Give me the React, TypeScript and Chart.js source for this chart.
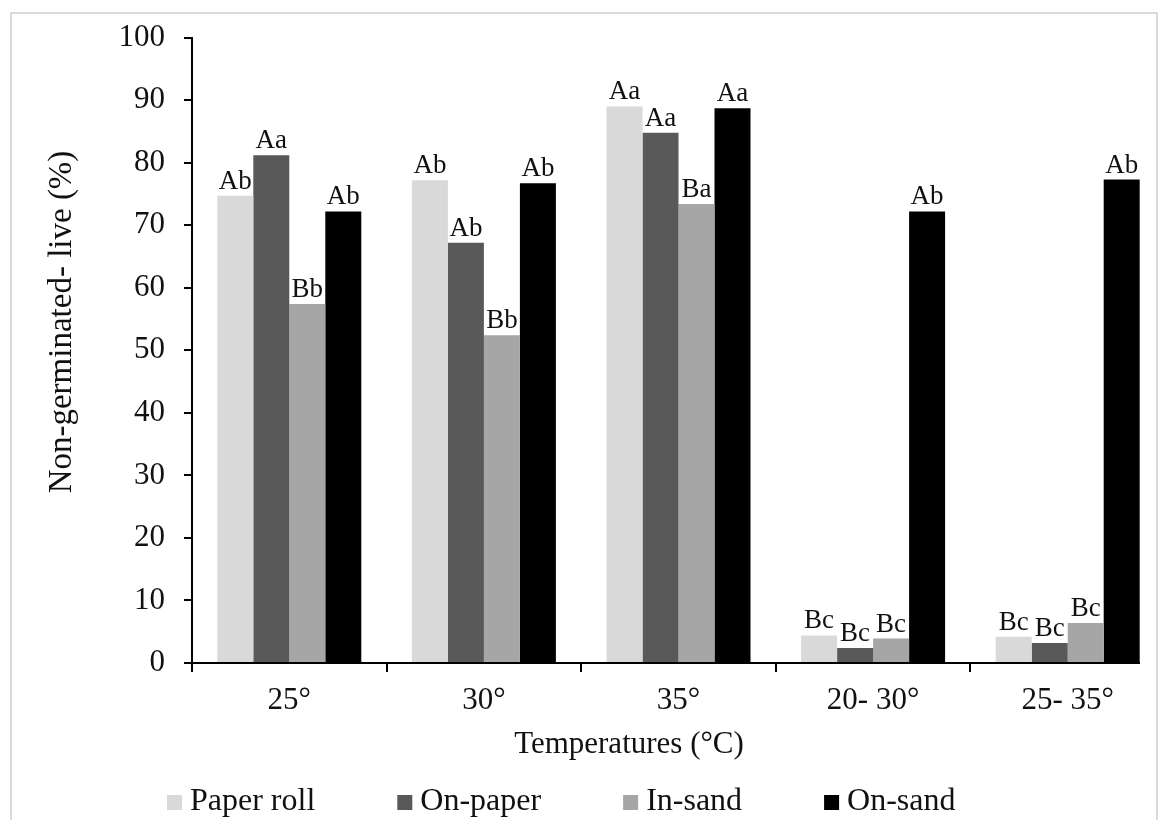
import React, { useEffect, useRef } from "react";
import { Chart, registerables } from "chart.js";

Chart.register(...registerables);

const categories = ["25°", "30°", "35°", "20- 30°", "25- 35°"];
const seriesNames = ["Paper roll", "On-paper", "In-sand", "On-sand"];
const seriesColors = ["#d9d9d9", "#595959", "#a6a6a6", "#000000"];

const paperRoll = [74.7, 77.2, 89.0, 4.4, 4.2];
const onPaper = [81.2, 67.2, 84.8, 2.4, 3.2];
const inSand = [57.4, 52.4, 73.4, 3.9, 6.4];
const onSand = [72.2, 76.7, 88.7, 72.2, 77.3];

const paperRollLetters = ["Ab", "Ab", "Aa", "Bc", "Bc"];
const onPaperLetters = ["Aa", "Ab", "Aa", "Bc", "Bc"];
const inSandLetters = ["Bb", "Bb", "Ba", "Bc", "Bc"];
const onSandLetters = ["Ab", "Ab", "Aa", "Ab", "Ab"];

const yTitle = "Non-germinated- live (%)";
const xTitle = "Temperatures (°C)";

const seriesValues = [paperRoll, onPaper, inSand, onSand];
const seriesLetters = [paperRollLetters, onPaperLetters, inSandLetters, onSandLetters];

const FONT = "'Liberation Serif', 'Times New Roman', serif";

const overlayPlugin = {
  id: "overlay",
  afterDatasetsDraw(chart: any) {
    const ctx = chart.ctx;
    ctx.save();
    ctx.font = `27px ${FONT}`;
    ctx.fillStyle = "#111";
    ctx.textAlign = "center";
    ctx.textBaseline = "alphabetic";
    chart.data.datasets.forEach((_ds: any, i: number) => {
      const meta = chart.getDatasetMeta(i);
      meta.data.forEach((el: any, j: number) => {
        ctx.fillText(seriesLetters[i][j], el.x, el.y - 7);
      });
    });
    ctx.restore();
  },
  afterDraw(chart: any) {
    const ctx = chart.ctx;
    ctx.save();
    ctx.fillStyle = "#111";
    // y title
    ctx.font = `33px ${FONT}`;
    ctx.translate(62, 322);
    ctx.rotate(-Math.PI / 2);
    ctx.textAlign = "center";
    ctx.textBaseline = "middle";
    ctx.fillText(yTitle, 0, 0);
    ctx.restore();

    ctx.save();
    ctx.fillStyle = "#111";
    ctx.font = `31px ${FONT}`;
    ctx.textAlign = "center";
    ctx.textBaseline = "alphabetic";
    ctx.fillText(xTitle, 629, 753);

    // legend
    ctx.font = `32px ${FONT}`;
    ctx.textAlign = "left";
    let x = 167;
    const base = 810;
    seriesNames.forEach((name, i) => {
      ctx.fillStyle = seriesColors[i];
      ctx.fillRect(x, base - 15, 15, 15);
      ctx.fillStyle = "#111";
      ctx.fillText(name, x + 23, base);
      x += 23 + ctx.measureText(name).width + 82;
    });
    ctx.restore();
  },
};

export default function App() {
  const ref = useRef<HTMLCanvasElement | null>(null);

  useEffect(() => {
    if (!ref.current) return;
    Chart.defaults.font.family = FONT;
    const chart = new Chart(ref.current, {
      type: "bar",
      data: {
        labels: categories,
        datasets: seriesNames.map((name, i) => ({
          label: name,
          data: seriesValues[i],
          backgroundColor: seriesColors[i],
          borderWidth: 0,
          barPercentage: 1,
          categoryPercentage: 0.74,
        })),
      },
      options: {
        animation: false,
        responsive: false,
        devicePixelRatio: 1,
        layout: { padding: { top: 33, right: 15, left: 0, bottom: 0 } },
        plugins: {
          legend: { display: false },
          tooltip: { enabled: false },
          title: { display: false },
        },
        scales: {
          x: {
            offset: true,
            grid: {
              display: true,
              offset: true,
              drawOnChartArea: false,
              drawTicks: true,
              tickLength: 9,
              color: "#000",
              lineWidth: 2,
            },
            border: { display: true, color: "#000", width: 2 },
            ticks: { color: "#111", font: { size: 31, family: FONT }, padding: 10 },
            afterFit(scale: any) {
              scale.height = 157;
            },
          },
          y: {
            min: 0,
            max: 100,
            ticks: { stepSize: 10, color: "#111", font: { size: 31, family: FONT }, padding: 19 },
            grid: {
              display: true,
              drawOnChartArea: false,
              drawTicks: true,
              tickLength: 8,
              color: "#000",
              lineWidth: 2,
            },
            border: { display: true, color: "#000", width: 2 },
            afterFit(scale: any) {
              scale.width = 192;
            },
          },
        },
      },
      plugins: [overlayPlugin],
    });
    return () => chart.destroy();
  }, []);

  return (
    <div style={{ position: "absolute", left: 0, top: 0, width: 1159, height: 820, overflow: "hidden", background: "#fff" }}>
      <div
        style={{
          position: "absolute",
          left: 10,
          top: 12,
          width: 1148,
          height: 900,
          boxSizing: "border-box",
          border: "2px solid #dadada",
        }}
      />
      <div style={{ position: "absolute", left: 0, top: 0, width: 1140, height: 820, overflow: "hidden" }}>
        <canvas ref={ref} width={1180} height={820} style={{ width: 1180, height: 820, display: "block" }} />
      </div>
    </div>
  );
}
